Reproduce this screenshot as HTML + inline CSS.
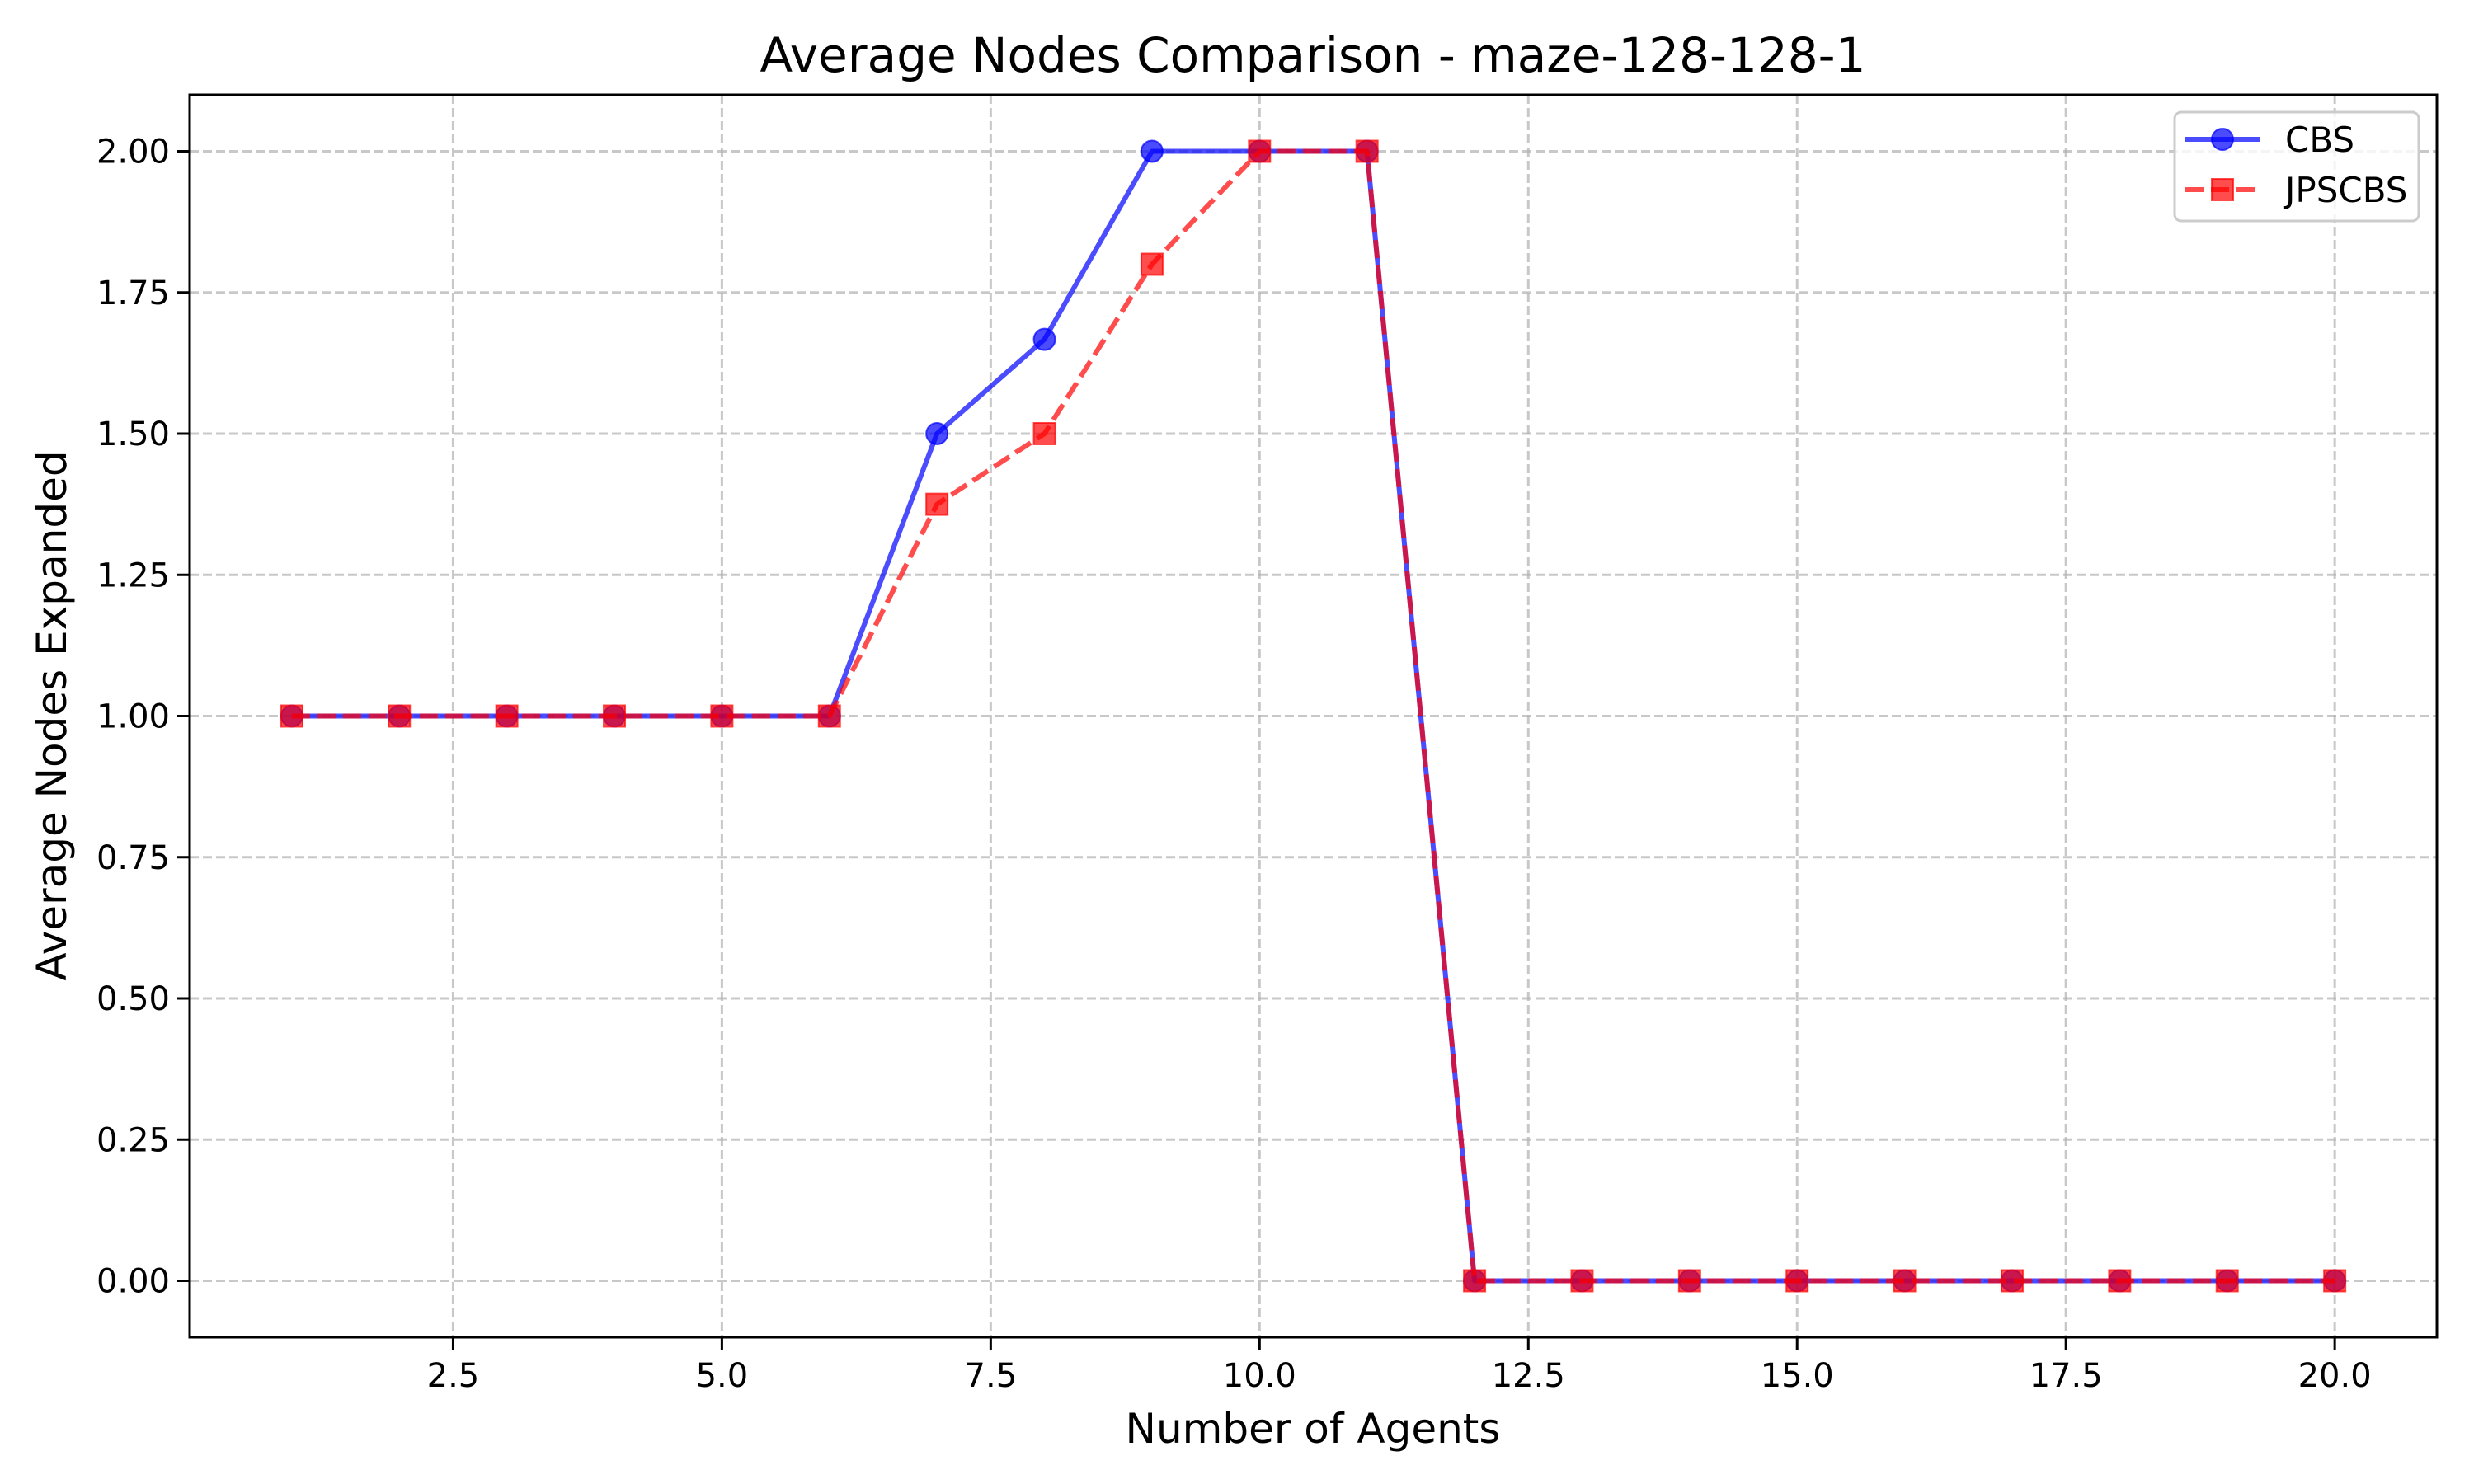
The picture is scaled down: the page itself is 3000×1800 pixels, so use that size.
<!DOCTYPE html>
<html><head><meta charset="utf-8"><style>
html,body{margin:0;padding:0;background:#fff;}
svg{display:block;font-family:"DejaVu Sans","Liberation Sans",sans-serif;}
</style></head><body>
<svg id="chart" width="3000" height="1800" viewBox="0 0 3000 1800" xmlns="http://www.w3.org/2000/svg">
<rect width="3000" height="1800" fill="#fff"/>
<g id="grid"></g>
<g id="series"></g>
<rect x="230" y="115" width="2725" height="1507" fill="none" stroke="#000" stroke-width="3"/>
<g id="ticks"></g>
<text x="1592" y="87" font-size="58" text-anchor="middle">Average Nodes Comparison - maze-128-128-1</text>
<text x="1592" y="1750" font-size="50" text-anchor="middle">Number of Agents</text>
<text x="0" y="0" font-size="50" text-anchor="middle" transform="translate(80,868) rotate(-90)">Average Nodes Expanded</text>
<g>
<rect x="2637" y="136" width="296" height="132" rx="8" fill="#fff" fill-opacity="0.8" stroke="#ccc" stroke-width="3"/>
<g>
<line x1="2650" y1="169" x2="2740" y2="169" stroke="#0000ff" stroke-opacity="0.7" stroke-width="6"/>
<circle cx="2695" cy="169" r="13" fill="#0000ff" fill-opacity="0.7" stroke="#0000ff" stroke-opacity="0.7" stroke-width="2"/>
<text x="2771" y="184" font-size="42">CBS</text>
</g>
<g>
<line x1="2650" y1="230" x2="2740" y2="230" stroke="#ff0000" stroke-opacity="0.7" stroke-width="6" stroke-dasharray="22,9"/>
<rect x="2682" y="217" width="26" height="26" fill="#ff0000" fill-opacity="0.7" stroke="#ff0000" stroke-opacity="0.7" stroke-width="2"/>
<text x="2771" y="245" font-size="42">JPSCBS</text>
</g>
</g>
</svg>
<script>
const agents=[1,2,3,4,5,6,7,8,9,10,11,12,13,14,15,16,17,18,19,20];
const cbsValues=[1,1,1,1,1,1,1.5,1.667,2,2,2,0,0,0,0,0,0,0,0,0];
const jpscbsValues=[1,1,1,1,1,1,1.375,1.5,1.8,2,2,0,0,0,0,0,0,0,0,0];
const xTicks=[2.5,5.0,7.5,10.0,12.5,15.0,17.5,20.0];
const xTickLabels=["2.5","5.0","7.5","10.0","12.5","15.0","17.5","20.0"];
const yTicks=[0,0.25,0.5,0.75,1,1.25,1.5,1.75,2];
const yTickLabels=["0.00","0.25","0.50","0.75","1.00","1.25","1.50","1.75","2.00"];
const NS="http://www.w3.org/2000/svg";
const L=230,R=2955,T=115,B=1622,xmin=0.05,xmax=20.95,ymin=-0.1,ymax=2.1;
function xs(v){return L+(v-xmin)/(xmax-xmin)*(R-L);}
function ys(v){return B-(v-ymin)/(ymax-ymin)*(B-T);}
function mk(t,a,p){const e=document.createElementNS(NS,t);for(const k in a)e.setAttribute(k,a[k]);p.appendChild(e);return e;}
const grid=document.getElementById('grid'),ticks=document.getElementById('ticks'),ser=document.getElementById('series');
xTicks.forEach((v,i)=>{
const g=mk('line',{x1:xs(v),x2:xs(v),y1:T,y2:B,stroke:'#b0b0b0','stroke-opacity':0.7,'stroke-width':3,'stroke-dasharray':'11,5'},grid);


const t=mk('line',{x1:xs(v),x2:xs(v),y1:B,y2:B+15,stroke:'#000','stroke-width':3},ticks);


const l=mk('text',{x:xs(v),y:B+60,'font-size':40,'text-anchor':'middle'},ticks);
l.textContent=xTickLabels[i];


});
yTicks.forEach((v,i)=>{
const g=mk('line',{x1:L,x2:R,y1:ys(v),y2:ys(v),stroke:'#b0b0b0','stroke-opacity':0.7,'stroke-width':3,'stroke-dasharray':'11,5'},grid);


const t=mk('line',{x1:L-15,x2:L,y1:ys(v),y2:ys(v),stroke:'#000','stroke-width':3},ticks);


const l=mk('text',{x:L-24,y:ys(v)+14,'font-size':40,'text-anchor':'end'},ticks);
l.textContent=yTickLabels[i];


});
function draw(vals,color,dash,shape,name){
const pts=agents.map((a,i)=>xs(a)+','+ys(vals[i])).join(' ');
const pl=mk('polyline',{points:pts,fill:'none',stroke:color,'stroke-opacity':0.7,'stroke-width':6,'stroke-linejoin':'round'},ser);
if(dash)pl.setAttribute('stroke-dasharray',dash);


agents.forEach((a,i)=>{
let m;
if(shape==='circle')m=mk('circle',{cx:xs(a),cy:ys(vals[i]),r:13,fill:color,'fill-opacity':0.7,stroke:color,'stroke-opacity':0.7,'stroke-width':2},ser);
else m=mk('rect',{x:xs(a)-13,y:ys(vals[i])-13,width:26,height:26,fill:color,'fill-opacity':0.7,stroke:color,'stroke-opacity':0.7,'stroke-width':2},ser);


});
}
draw(cbsValues,'#0000ff',null,'circle','cbs');
draw(jpscbsValues,'#ff0000','22,9','square','jpscbs');
</script>
</body></html>
